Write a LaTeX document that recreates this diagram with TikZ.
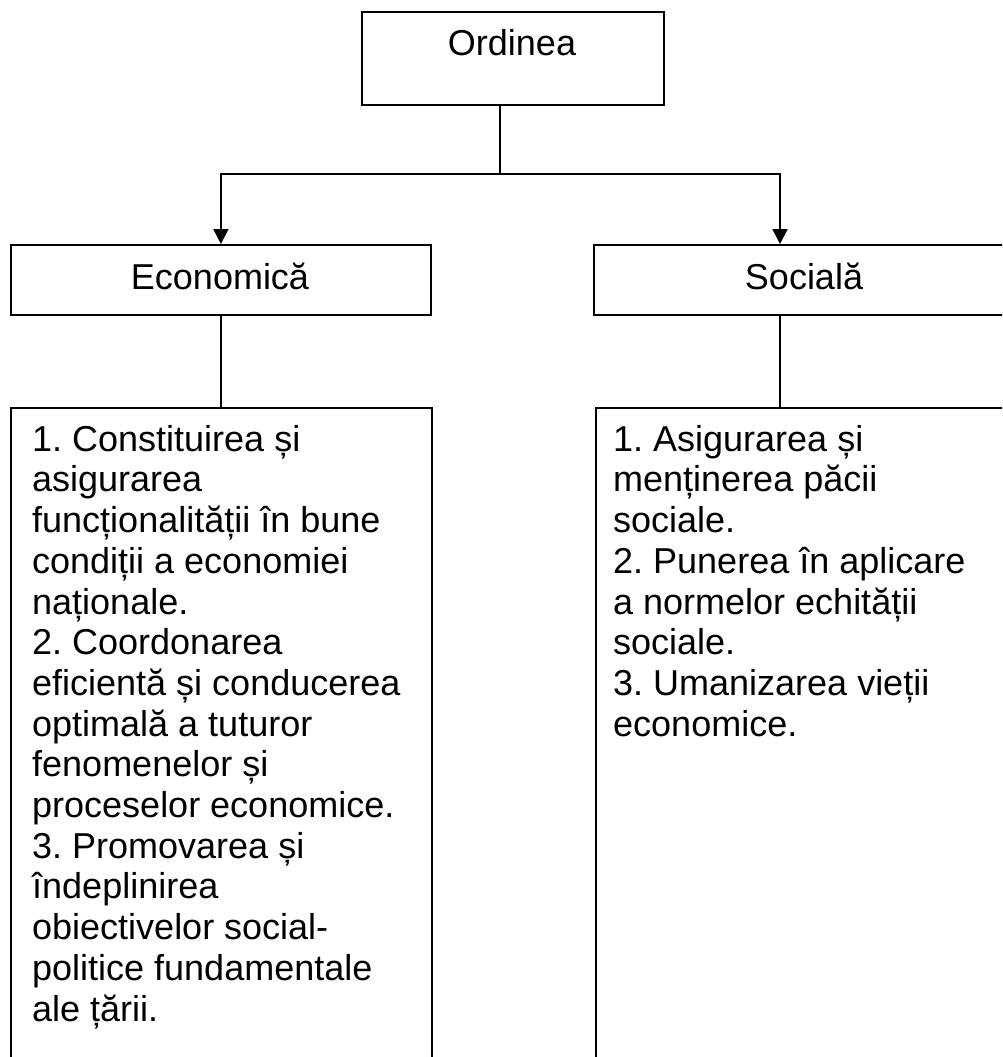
\documentclass[tikz,border=0pt]{standalone}
\usepackage{fontspec}
\setmainfont{Liberation Sans}
\usetikzlibrary{arrows.meta}
\frenchspacing
\begin{document}
\begin{tikzpicture}[x=1pt,y=-1pt,
  box/.style={draw=black, line width=1.8pt, rectangle, inner sep=0pt, anchor=north west},
  lbl/.style={inner sep=0pt, anchor=base, font=\fontsize{36}{41}\selectfont},
  para/.style={inner sep=0pt, anchor=north west, align=left, font=\fontsize{36}{40.7}\selectfont},
  link/.style={draw=black, line width=1.8pt},
  arr/.style={link, -{Triangle[width=15pt,length=15pt]}}]
\useasboundingbox (0,0) rectangle (1002,1057);
\clip (0,0) rectangle (1002,1057);

% boxes
\node[box, minimum width=302pt, minimum height=93pt] (top) at (361,11) {};
\node[box, minimum width=420pt, minimum height=70pt] (econ) at (10,244) {};
\node[box, minimum width=422pt, minimum height=70pt] (soc) at (593,244) {};
\node[box, minimum width=421pt, minimum height=700pt] (econlist) at (10,407) {};
\node[box, minimum width=450pt, minimum height=700pt] (soclist) at (595,407) {};

% titles
\node[lbl] (toptxt) at (512,56) {Ordinea};
\node[lbl] (econtxt) at (220,289) {Economică};
\node[lbl] (soctxt) at (804,289) {Socială};

% lists
\node[para] (econitems) at (32,425) {1. Constituirea și\\
asigurarea\\
funcționalității în bune\\
condiții a economiei\\
naționale.\\
2. Coordonarea\\
eficientă și conducerea\\
optimală a tuturor\\
fenomenelor și\\
proceselor economice.\\
3. Promovarea și\\
îndeplinirea\\
obiectivelor social-\\
politice fundamentale\\
ale țării.};
\node[para] (socitems) at (613,425) {1. Asigurarea și\\
menținerea păcii\\
sociale.\\
2. Punerea în aplicare\\
a normelor echității\\
sociale.\\
3. Umanizarea vieții\\
economice.};

% connectors
\coordinate (fork) at (500,174);
\coordinate (sbr) at (780,174);
\draw[link] (top.south -| fork) -- (fork);
\draw[arr] (fork) -| (econ.north);
\draw[arr] (fork) -- (sbr) -- (sbr |- soc.north);
\draw[link] (econ.south) -- (econ.south |- econlist.north);
\draw[link] (sbr |- soc.south) -- (sbr |- soclist.north);
\end{tikzpicture}
\end{document}
